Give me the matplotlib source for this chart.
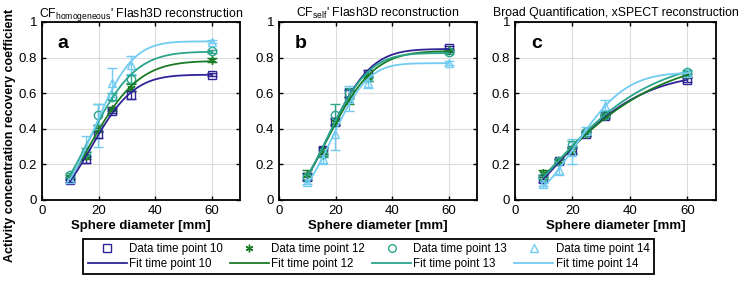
import numpy as np
import matplotlib
matplotlib.use("Agg")
import matplotlib.pyplot as plt
from matplotlib.lines import Line2D

plt.rcParams["font.family"] = ["Liberation Sans", "DejaVu Sans"]
plt.rcParams["mathtext.fontset"] = "custom"
plt.rcParams["mathtext.rm"] = "Liberation Sans"

# sphere diameters [mm]
diam = np.array([9.9, 15.4, 19.8, 24.8, 31.3, 60.0])

time_points = ["10", "12", "13", "14"]
colors = ["#2e2496", "#1a7a25", "#2aa58c", "#72cbf2"]
markers = ["s", (6, 2, 0), "o", "^"]

panel_titles = ["CF$_{\\mathregular{homogeneous}}$' Flash3D reconstruction",
                "CF$_{\\mathregular{self}}$' Flash3D reconstruction",
                "Broad Quantification, xSPECT reconstruction"]
panel_letters = ["a", "b", "c"]

# recovery coefficients (rows: time point 10, 12, 13, 14)
rc_a = [[0.11, 0.23, 0.37, 0.50, 0.59, 0.705],
        [0.13, 0.25, 0.40, 0.51, 0.63, 0.785],
        [0.14, 0.27, 0.48, 0.58, 0.68, 0.835],
        [0.12, 0.30, 0.42, 0.66, 0.76, 0.89]]
err_a = [[0.01, 0.02, 0.02, 0.01, 0.02, 0.01],
         [0.01, 0.02, 0.02, 0.01, 0.02, 0.01],
         [0.01, 0.02, 0.06, 0.02, 0.02, 0.01],
         [0.01, 0.06, 0.12, 0.08, 0.05, 0.01]]

rc_b = [[0.13, 0.28, 0.44, 0.60, 0.71, 0.855],
        [0.14, 0.27, 0.44, 0.56, 0.69, 0.84],
        [0.13, 0.26, 0.48, 0.60, 0.69, 0.83],
        [0.10, 0.23, 0.37, 0.57, 0.66, 0.77]]
err_b = [[0.02, 0.02, 0.02, 0.02, 0.02, 0.01],
         [0.03, 0.02, 0.02, 0.02, 0.02, 0.01],
         [0.02, 0.02, 0.06, 0.03, 0.02, 0.01],
         [0.01, 0.03, 0.09, 0.07, 0.03, 0.01]]

rc_c = [[0.12, 0.22, 0.28, 0.37, 0.47, 0.675],
        [0.15, 0.22, 0.28, 0.37, 0.47, 0.70],
        [0.13, 0.22, 0.31, 0.38, 0.48, 0.72],
        [0.09, 0.17, 0.27, 0.39, 0.53, 0.715]]
err_c = [[0.02, 0.01, 0.02, 0.01, 0.01, 0.01],
         [0.02, 0.01, 0.02, 0.01, 0.01, 0.01],
         [0.01, 0.01, 0.02, 0.01, 0.01, 0.01],
         [0.01, 0.03, 0.07, 0.02, 0.03, 0.01]]


def fit_curve(d, y):
    """least-squares fit of a*(1-exp(-(d/b)^c)) via grid search, a solved linearly"""
    best = None
    for b in np.linspace(5, 80, 151):
        for c in np.linspace(0.5, 4.0, 141):
            f = 1 - np.exp(-(d / b) ** c)
            a = f @ y / (f @ f)
            sse = np.sum((a * f - y) ** 2)
            if best is None or sse < best[0]:
                best = (sse, a, b, c)
    _, a, b, c = best
    xx = np.linspace(d.min(), d.max(), 200)
    return xx, a * (1 - np.exp(-(xx / b) ** c))


fig = plt.figure(figsize=(7.44, 2.82), dpi=100)
lefts = [42 / 744, 279 / 744, 515 / 744]
widths = [198 / 744, 198 / 744, 201 / 744]
bottom, height = 1 - 200 / 282, 178 / 282

for k, (rc, err) in enumerate([(rc_a, err_a), (rc_b, err_b), (rc_c, err_c)]):
    ax = fig.add_axes([lefts[k], bottom, widths[k], height])
    for i, tp in enumerate(time_points):
        y = np.array(rc[i])
        ax.errorbar(diam, y, yerr=err[i], fmt="none", ecolor=colors[i], elinewidth=1.0,
                    capsize=3.5, capthick=1.0, zorder=2)
        ax.plot(diam, y, linestyle="none", marker=markers[i], markersize=6,
                markerfacecolor="none", markeredgecolor=colors[i], markeredgewidth=1.0, zorder=3)
        xx, yy = fit_curve(diam, y)
        ax.plot(xx, yy, color=colors[i], lw=1.3, zorder=4)
    ax.set_xlim(0, 70)
    ax.set_ylim(0, 1)
    ax.set_xticks([0, 20, 40, 60])
    ax.set_yticks([0, 0.2, 0.4, 0.6, 0.8, 1])
    ax.set_yticklabels(["0", "0.2", "0.4", "0.6", "0.8", "1"])
    ax.grid(True, color="#dcdcdc", lw=0.8)
    ax.set_axisbelow(True)
    ax.tick_params(direction="in", length=3, labelsize=9.5, top=True, right=True, width=1.0)
    for s in ax.spines.values():
        s.set_linewidth(1.3)
    ax.set_title(panel_titles[k], fontsize=8.8, pad=4)
    ax.set_xlabel("Sphere diameter [mm]", fontsize=9.5, fontweight="bold", labelpad=2)
    ax.text(0.08, 0.88, panel_letters[k], transform=ax.transAxes, fontsize=14,
            fontweight="bold", va="center")

fig.text(0.013, 0.52, "Activity concentration recovery coefficient", rotation=90,
         fontsize=9, fontweight="bold", ha="center", va="center")

handles = []
for i, tp in enumerate(time_points):
    handles.append(Line2D([], [], linestyle="none", marker=markers[i], markersize=5.5,
                          markerfacecolor="none", markeredgecolor=colors[i]))
    handles.append(Line2D([], [], color=colors[i], lw=1.3))
labels = []
for tp in time_points:
    labels += ["Data time point " + tp, "Fit time point " + tp]

leg = fig.legend(handles, labels, ncol=4, loc="lower center", bbox_to_anchor=(368.5 / 744, 2 / 282),
                 fontsize=8.3, frameon=True, fancybox=False, edgecolor="black", framealpha=1,
                 borderpad=0.4, labelspacing=0.2, handlelength=3.4, handletextpad=0.2,
                 columnspacing=0.6)
leg.get_frame().set_linewidth(1.3)

fig.savefig("out.png", dpi=100)
